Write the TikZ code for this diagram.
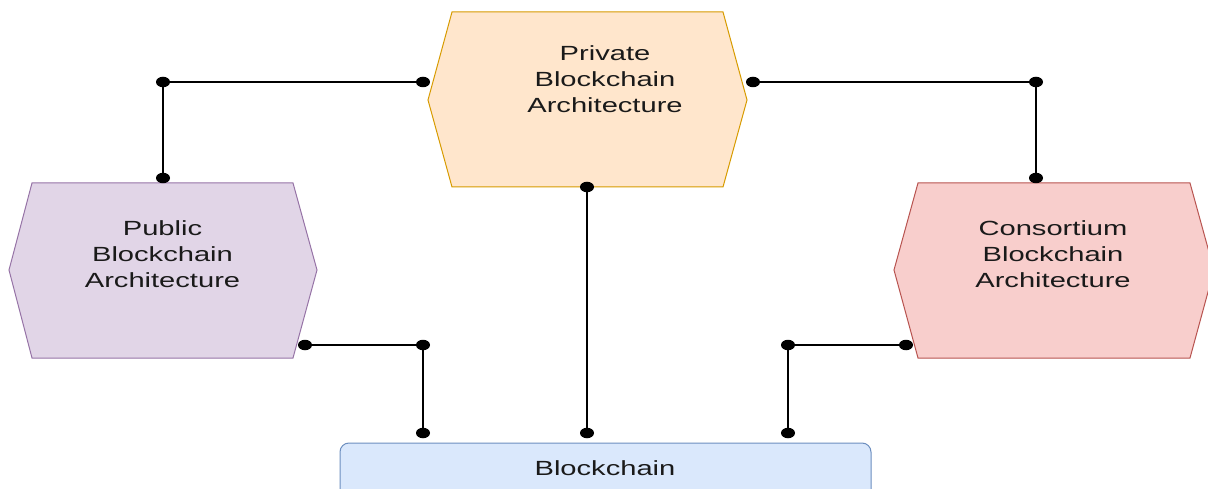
\documentclass[tikz,border=0pt]{standalone}
\usepackage{fontspec}
\setmainfont{Liberation Sans}[FakeStretch=1.42]
\usetikzlibrary{shapes.geometric}

\definecolor{orangefill}{HTML}{FFE6CC}
\definecolor{orangeline}{HTML}{D79B00}
\definecolor{purplefill}{HTML}{E1D5E7}
\definecolor{purpleline}{HTML}{9673A6}
\definecolor{redfill}{HTML}{F8CECC}
\definecolor{redline}{HTML}{B85450}
\definecolor{bluefill}{HTML}{DAE8FC}
\definecolor{blueline}{HTML}{6C8EBF}
\definecolor{labelink}{HTML}{1A1A1A}

\tikzset{
  hexshape/.style={line width=1pt, line join=miter},
  label text/.style={align=center, inner sep=0pt, text=labelink,
    font=\fontsize{20.5}{26}\selectfont},
  link/.style={line width=1.3pt, black},
  dotend/.style={ellipse, fill=black, draw=none, inner sep=0pt,
    minimum width=14pt, minimum height=10.5pt},
}

\begin{document}
\begin{tikzpicture}[x=1pt, y=-1pt]
\useasboundingbox (0,0) rectangle (1208,489);

% architecture hexagons
\filldraw[hexshape, fill=orangefill, draw=orangeline]
  (452,12) -- (723,12) -- (747,100) -- (723,187) -- (452,187) -- (428,100) -- cycle;
\filldraw[hexshape, fill=purplefill, draw=purpleline]
  (32,183) -- (293,183) -- (317,270) -- (293,358) -- (32,358) -- (9,270) -- cycle;
\filldraw[hexshape, fill=redfill, draw=redline]
  (918,183) -- (1190,183) -- (1214,270) -- (1190,358) -- (918,358) -- (894,270) -- cycle;

% blockchain base box
\filldraw[line width=1pt, fill=bluefill, draw=blueline, rounded corners=9pt]
  (340,520) -- (340,443) -- (871,443) -- (871,520);

% labels
\node[label text] (private) at (605,78.7) {Private\\Blockchain\\Architecture};
\node[label text] (public) at (162.5,254) {Public\\Blockchain\\Architecture};
\node[label text] (consortium) at (1053,254) {Consortium\\Blockchain\\Architecture};
\node[label text] (chain) at (605,468.5) {Blockchain};

% connector end points
\coordinate (pvL) at (423,82);
\coordinate (pvR) at (753,82);
\coordinate (pvB) at (587,187);
\coordinate (cornerL) at (163,82);
\coordinate (pubT) at (163,178);
\coordinate (cornerR) at (1036,82);
\coordinate (conT) at (1036,178);
\coordinate (pubR) at (305,345);
\coordinate (bendL) at (423,345);
\coordinate (chainL) at (423,433);
\coordinate (chainM) at (587,433);
\coordinate (conL) at (906,345);
\coordinate (bendR) at (788,345);
\coordinate (chainR) at (788,433);

% connectors
\draw[link] (pvL) -- (cornerL) -- (pubT);
\draw[link] (pvR) -- (cornerR) -- (conT);
\draw[link] (pvB) -- (chainM);
\draw[link] (pubR) -- (bendL) -- (chainL);
\draw[link] (conL) -- (bendR) -- (chainR);

% connector dots
\foreach \p in {pvL,pvR,pvB,cornerL,pubT,cornerR,conT,pubR,bendL,chainL,chainM,conL,bendR,chainR}
  \node[dotend] at (\p) {};
\end{tikzpicture}
\end{document}
